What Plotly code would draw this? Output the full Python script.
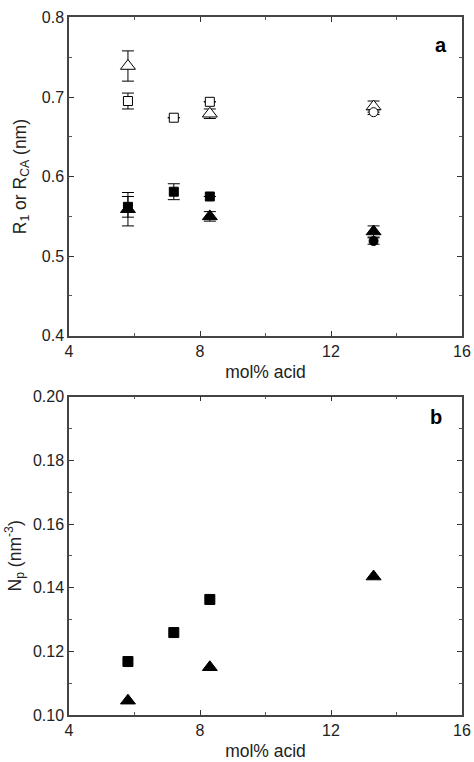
import plotly.graph_objects as go

# Panel a data (None = error bar too small to show)
x_sq_a = [5.8, 7.2, 8.3]
open_sq = [0.695, 0.674, 0.694]
open_sq_err = [0.010, None, None]
filled_sq = [0.562, 0.581, 0.575]
filled_sq_err = [0.013, 0.010, None]

x_tri_a = [5.8, 8.3, 13.3]
open_tri = [0.739, 0.679, 0.688]
open_tri_err = [0.019, 0.006, 0.007]
filled_tri = [0.559, 0.550, 0.531]
filled_tri_err = [0.021, 0.006, 0.007]

x_circ_a = [13.3]
open_circ = [0.681]
open_circ_err = [0.003]
filled_circ = [0.519]
filled_circ_err = [0.004]

# Panel b data
x_sq_b = [5.8, 7.2, 8.3]
np_sq = [0.1168, 0.1259, 0.1363]
x_tri_b = [5.8, 8.3, 13.3]
np_tri = [0.1045, 0.1150, 0.1435]

fig = go.Figure()

def add(x, y, err, symbol, size, fill, xa, ya):
    kw = {}
    if err is not None:
        kw["error_y"] = dict(type="data", array=err, visible=True, color="black", thickness=1, width=6)
    fig.add_trace(go.Scatter(x=x, y=y, mode="markers", xaxis=xa, yaxis=ya,
                             marker=dict(symbol=symbol, size=size, color=fill,
                                         line=dict(color="black", width=1)),
                             showlegend=False, **kw))

add(x_sq_a, open_sq, open_sq_err, "square", 9, "white", "x", "y")
add(x_tri_a, open_tri, open_tri_err, "triangle-up", 13, "white", "x", "y")
add(x_circ_a, open_circ, open_circ_err, "circle", 9, "white", "x", "y")
add(x_sq_a, filled_sq, filled_sq_err, "square", 9, "black", "x", "y")
add(x_tri_a, filled_tri, filled_tri_err, "triangle-up", 13, "black", "x", "y")
add(x_circ_a, filled_circ, filled_circ_err, "circle", 9, "black", "x", "y")

add(x_sq_b, np_sq, None, "square", 10, "black", "x2", "y2")
add(x_tri_b, np_tri, None, "triangle-up", 13, "black", "x2", "y2")

font = dict(family="Liberation Sans, Arial, sans-serif", color="#222", size=16)

def xaxis(anchor):
    return dict(range=[4, 16], tickvals=[4, 8, 12, 16], ticks="inside", ticklen=5,
                tickwidth=1.2, tickcolor="#333", showline=True, linecolor="#444", linewidth=1.5,
                mirror="ticks", showgrid=False, zeroline=False, anchor=anchor, automargin=False,
                minor=dict(tickvals=[6, 10, 14], ticks="inside", ticklen=3, tickcolor="#555"),
                title=dict(text="mol% acid", standoff=7, font=dict(size=17.5)),
                tickfont=dict(size=16))

fig.update_layout(
    width=474, height=762,
    margin=dict(l=69, r=12, t=17, b=47),
    plot_bgcolor="white", paper_bgcolor="white",
    font=font,
    xaxis=xaxis("y"),
    xaxis2=xaxis("y2"),
    yaxis=dict(domain=[0.5434, 0.9993], range=[0.4, 0.8], tickvals=[0.4, 0.5, 0.6, 0.7, 0.8],
               ticktext=["0.4", "0.5", "0.6", "0.7", "0.8"],
               ticks="inside", ticklen=5, tickwidth=1.2, tickcolor="#333",
               showline=True, linecolor="#444", linewidth=1.5, mirror="ticks",
               showgrid=False, zeroline=False, anchor="x", automargin=False,
               minor=dict(tickvals=[0.45, 0.55, 0.65, 0.75], ticks="inside", ticklen=3, tickcolor="#555"),
               title=dict(text="R<sub>1</sub> or R<sub>CA</sub> (nm)", standoff=11, font=dict(size=17.5)),
               tickfont=dict(size=16)),
    yaxis2=dict(domain=[0, 0.456], range=[0.10, 0.20],
                tickvals=[0.10, 0.12, 0.14, 0.16, 0.18, 0.20],
                ticktext=["0.10", "0.12", "0.14", "0.16", "0.18", "0.20"],
                ticks="inside", ticklen=5, tickwidth=1.2, tickcolor="#333",
                showline=True, linecolor="#444", linewidth=1.5, mirror="ticks",
                showgrid=False, zeroline=False, anchor="x2", automargin=False,
                minor=dict(tickvals=[0.11, 0.13, 0.15, 0.17, 0.19], ticks="inside", ticklen=3, tickcolor="#555"),
                title=dict(text="N<sub>p</sub> (nm<sup>-3</sup>)", standoff=7, font=dict(size=17.5)),
                tickfont=dict(size=16)),
    annotations=[
        dict(text="<b>a</b>", x=15.35, y=0.765, xref="x", yref="y", showarrow=False,
             font=dict(size=20, color="black")),
        dict(text="<b>b</b>", x=15.2, y=0.1935, xref="x2", yref="y2", showarrow=False,
             font=dict(size=20, color="black")),
    ],
)

fig.write_html("out.html")
